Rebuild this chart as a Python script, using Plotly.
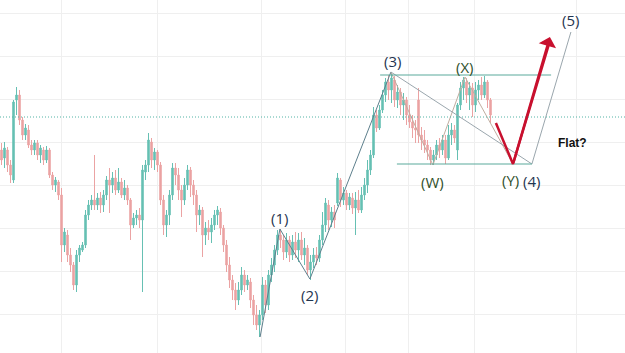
import plotly.graph_objects as go

# ---- candle data (points below reference level 353; price = 353 - value) ----
REF = 353
open_pts = [150,158,150,165,180,100,95,120,135,130,145,150,143,155,150,160,150,175,185,182,
            195,245,235,255,265,285,255,250,245,215,205,200,205,198,205,195,180,185,178,190,
            182,195,188,200,225,218,215,220,172,165,142,160,152,165,200,225,215,195,168,175,
            190,200,185,170,185,195,215,210,235,228,232,225,215,212,228,245,265,280,290,300,
            290,275,285,282,300,315,325,315,285,305,275,265,250,235,240,252,240,255,242,250,
            240,255,248,270,262,255,258,240,225,205,220,212,203,180,200,193,205,198,208,200,
            210,195,185,170,155,115,128,110,95,82,90,80,100,92,105,100,115,122,128,100,
            135,140,145,150,160,155,145,150,140,158,135,130,150,105,88,82,95,88,105,90,
            85,95,82,100]
close_pts = [160,148,165,175,102,95,120,135,128,145,150,143,155,148,160,150,175,185,180,195,
             245,232,255,265,285,255,248,245,215,205,200,205,198,205,195,180,185,178,190,182,
             195,188,200,225,218,215,220,170,165,140,160,152,165,200,225,215,195,168,175,190,
             200,185,170,185,195,215,210,235,228,232,225,215,210,228,245,265,280,290,300,290,
             275,285,280,300,315,325,315,285,305,275,265,250,235,240,252,240,255,242,250,240,
             255,248,270,262,255,258,240,225,203,220,212,220,178,200,193,205,197,208,200,210,
             195,185,170,155,115,128,110,95,82,90,78,100,92,105,100,115,122,128,130,135,
             140,145,150,160,155,145,150,140,158,135,130,138,105,88,80,95,88,105,90,85,
             95,82,100,115]
high_pts = [143,142,147,160,100,87,90,117,124,125,140,140,140,145,147,146,148,172,177,180,
            188,228,230,248,262,250,245,242,210,200,195,155,193,192,190,176,168,172,170,168,
            178,180,185,198,213,210,208,165,160,133,138,148,150,162,195,210,190,163,163,168,
            185,178,165,167,180,190,205,207,222,220,218,210,206,208,225,240,257,275,283,282,
            267,270,275,278,295,305,310,277,280,270,258,245,230,229,235,233,236,235,232,233,
            232,238,245,255,248,247,235,212,198,200,207,205,173,178,187,190,193,193,192,190,
            187,178,160,150,107,110,105,90,78,75,72,76,85,88,93,97,105,115,120,88,
            127,130,140,147,150,140,138,135,135,125,123,125,103,82,77,78,82,83,82,80,
            77,76,80,98]
low_pts = [165,168,172,183,183,115,125,140,140,148,155,155,160,163,165,163,178,190,192,200,
           262,252,262,272,290,292,262,252,248,220,210,210,210,213,212,200,213,193,195,193,
           198,200,205,240,228,225,228,292,180,172,168,170,172,205,235,237,225,200,185,200,
           217,205,190,197,205,232,225,257,245,240,243,230,225,235,252,272,288,300,310,305,
           295,292,290,308,325,330,337,320,313,310,282,272,255,248,260,258,262,260,258,262,
           260,265,275,280,268,265,262,245,232,230,227,228,206,207,205,210,210,214,235,213,
           213,200,193,175,158,132,130,113,102,100,103,107,108,115,120,125,128,138,143,143,
           150,153,160,165,165,160,158,155,164,160,145,143,160,110,100,103,110,117,112,100,
           100,98,108,123]

# ---- Elliott wave pivots (candle index, points below reference) ----
impulse_i = [86.2, 92.8, 102.8, 129.8]
impulse_p = [337, 229, 279, 72]
wxy_i = [129.8, 143.8, 154.5, 170.5]
wxy_p = [72, 165, 77, 164]
trend_i = [129.8, 176.8, 189.8]
trend_p = [72, 164, 32]
upper_level_i = [126.2, 183.2]
upper_level_p = 75
lower_level_i = [131.8, 176.8]
lower_level_p = 164
dotted_level_p = 117
red_path_i = [164.8, 170.5]
red_path_p = [123, 164]
red_tip = (182.8, 37)

labels = ["(1)", "(2)", "(3)", "(W)", "(X)", "(Y)", "(4)", "(5)"]
label_i = [92.8, 102.8, 130.2, 143.8, 154.5, 169.8, 176.8, 189.8]
label_p = [218, 295, 61, 182, 67, 180, 181, 20]
label_col = ["#1f3550", "#1f3550", "#1f3550", "#30502c", "#30502c", "#30502c", "#1f3550", "#1f3550"]

grid_x = [20.1, 52.0, 86.5, 114.5, 135.5, 157.8, 191.8]
grid_p = [13, 56, 99, 142, 185, 228, 271, 314]


def P(v):
    return REF - v


idx = list(range(len(open_pts)))

fig = go.Figure()
fig.add_trace(go.Candlestick(
    x=idx,
    open=[P(v) for v in open_pts],
    high=[P(v) for v in high_pts],
    low=[P(v) for v in low_pts],
    close=[P(v) for v in close_pts],
    increasing=dict(line=dict(color="#66c0b3", width=1), fillcolor="#66c0b3"),
    decreasing=dict(line=dict(color="#eba3a3", width=1), fillcolor="#eba3a3"),
    whiskerwidth=0,
    hoverinfo="skip",
))

thin = dict(color="#5d7f8c", width=1)
fig.add_trace(go.Scatter(x=impulse_i, y=[P(v) for v in impulse_p], mode="lines",
                         line=thin, hoverinfo="skip"))
fig.add_trace(go.Scatter(x=wxy_i, y=[P(v) for v in wxy_p], mode="lines",
                         line=dict(color="#c0ada0", width=1), hoverinfo="skip"))
fig.add_trace(go.Scatter(x=trend_i, y=[P(v) for v in trend_p], mode="lines",
                         line=dict(color="#9aa6ad", width=1), hoverinfo="skip"))
fig.add_trace(go.Scatter(x=upper_level_i, y=[P(upper_level_p)] * 2, mode="lines",
                         line=dict(color="#5aaa9c", width=1.2), hoverinfo="skip"))
fig.add_trace(go.Scatter(x=lower_level_i, y=[P(lower_level_p)] * 2, mode="lines",
                         line=dict(color="#5aaa9c", width=1.2), hoverinfo="skip"))
fig.add_trace(go.Scatter(x=red_path_i + [red_tip[0]],
                         y=[P(v) for v in red_path_p] + [P(red_tip[1] + 4)],
                         mode="lines", line=dict(color="#c8102e", width=2.5), hoverinfo="skip"))

fig.add_annotation(x=red_tip[0], y=P(red_tip[1]), ax=red_path_i[1], ay=P(red_path_p[1]),
                   xref="x", yref="y", axref="x", ayref="y", text="", showarrow=True,
                   arrowhead=1, arrowsize=1.2, arrowwidth=2.5, arrowcolor="#c8102e")

fig.add_shape(type="line", xref="paper", x0=0, x1=1, yref="y",
              y0=P(dotted_level_p), y1=P(dotted_level_p),
              line=dict(color="#52b3a5", width=1, dash="1px,2px"))

for t, xi, pv, c in zip(labels, label_i, label_p, label_col):
    fig.add_annotation(x=xi, y=P(pv), text=t, showarrow=False,
                       font=dict(family="Open Sans, sans-serif", size=15, color=c))

fig.add_annotation(x=190.4, y=P(143), text="<b>Flat?</b>", showarrow=False,
                   font=dict(family="Liberation Sans, Arial, sans-serif", size=12, color="#111111"))

fig.update_layout(
    width=625, height=353,
    margin=dict(l=0, r=0, t=0, b=0),
    paper_bgcolor="white", plot_bgcolor="white",
    showlegend=False,
    xaxis=dict(range=[-0.5, 207.83], rangeslider=dict(visible=False),
               tickvals=grid_x, showticklabels=False, showgrid=True,
               gridcolor="#efefef", gridwidth=1, zeroline=False, showline=False, ticks=""),
    yaxis=dict(range=[0, 353], tickvals=[P(v) for v in grid_p], showticklabels=False,
               showgrid=True, gridcolor="#efefef", gridwidth=1, zeroline=False,
               showline=False, ticks=""),
)

fig.write_html("out.html")
